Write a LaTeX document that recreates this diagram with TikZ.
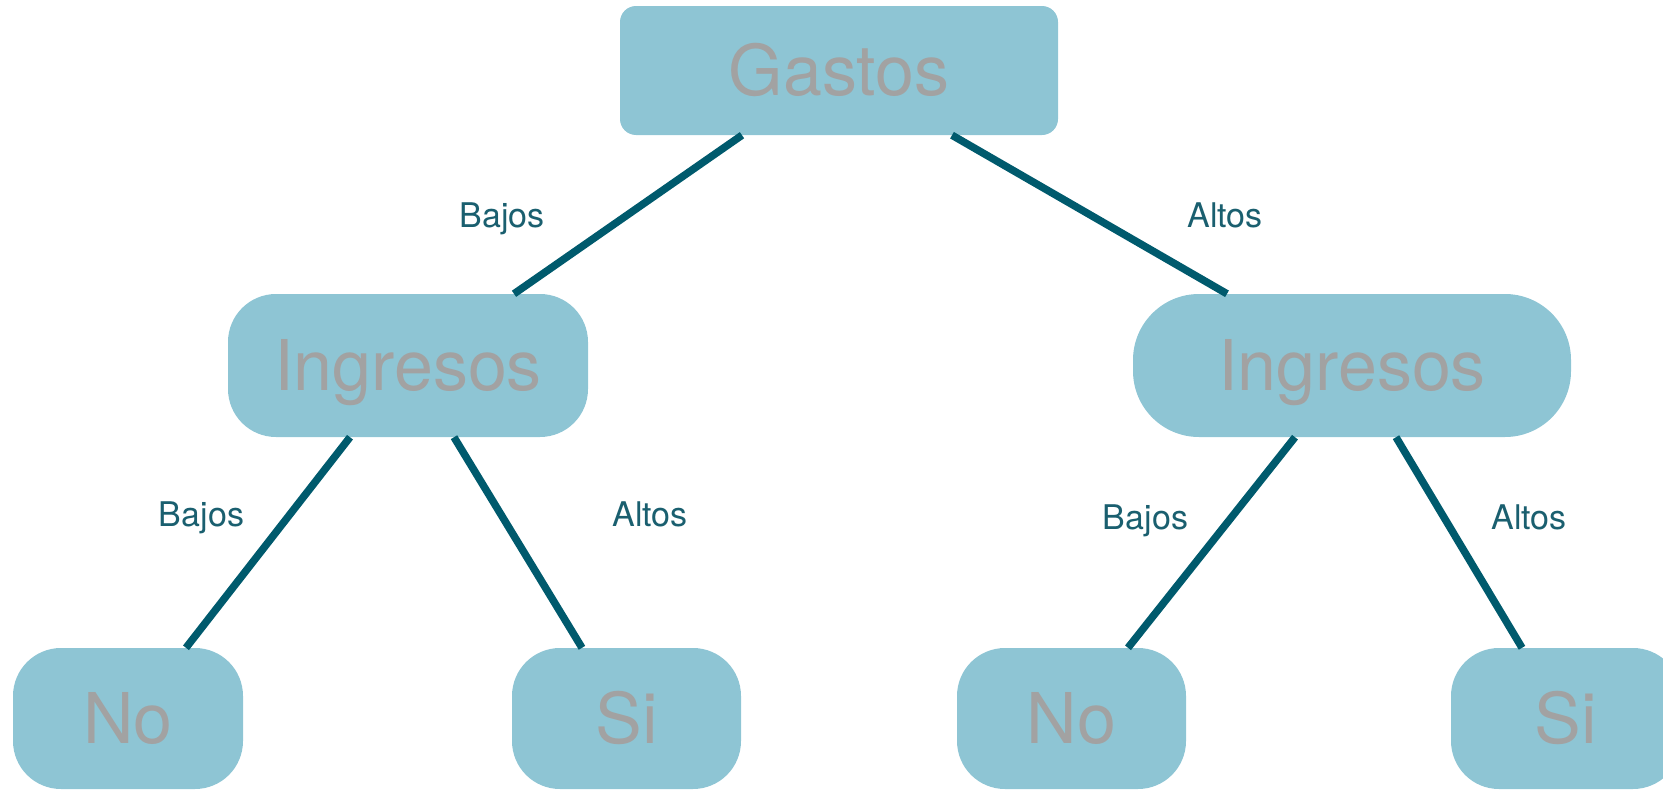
\documentclass[tikz,border=0pt]{standalone}
\usepackage{fontspec}
\setmainfont{TeX Gyre Heros}
\definecolor{boxfill}{HTML}{8EC5D4}
\definecolor{boxtext}{HTML}{A2A2A2}
\definecolor{edgecol}{HTML}{005A6D}
\definecolor{labcol}{HTML}{1A5F6F}
\begin{document}
\begin{tikzpicture}[x=1pt,y=-1pt,
  treebox/.style={fill=boxfill,draw=none,inner sep=0pt,
    font=\fontsize{70}{70}\selectfont,text=boxtext,
    text height=50pt,text depth=0pt},
  edge/.style={draw=edgecol,line width=7.5pt},
  branch/.style={font=\fontsize{34}{34}\selectfont,text=labcol,anchor=base,inner sep=0pt}]
\useasboundingbox (0,0) rectangle (1663,790);
% decision nodes
\node[treebox,minimum width=438pt,minimum height=129pt,rounded corners=16pt] (g) at (839,70.5) {Gastos};
\node[treebox,minimum width=360pt,minimum height=143pt,rounded corners=48pt] (il) at (408,365.5) {Ingresos};
\node[treebox,minimum width=438pt,minimum height=143pt,rounded corners=66pt] (ir) at (1352,365.5) {Ingresos};
% leaves
\node[treebox,minimum width=230pt,minimum height=141pt,rounded corners=48pt] (nl) at (128,718.5) {No};
\node[treebox,minimum width=229pt,minimum height=141pt,rounded corners=48pt] (sl) at (626.5,718.5) {Si};
\node[treebox,minimum width=229pt,minimum height=141pt,rounded corners=48pt] (nr) at (1071.5,718.5) {No};
\node[treebox,minimum width=230pt,minimum height=141pt,rounded corners=48pt] (sr) at (1566,718.5) {Si};
% branches
\draw[edge] ([xshift=-97pt]g.south) -- ([xshift=106pt]il.north);
\draw[edge] ([xshift=113pt]g.south) -- ([xshift=-125pt]ir.north);
\draw[edge] ([xshift=-58pt]il.south) -- ([xshift=58pt]nl.north);
\draw[edge] ([xshift=46pt]il.south) -- ([xshift=-44.5pt]sl.north);
\draw[edge] ([xshift=-57pt]ir.south) -- ([xshift=56.5pt]nr.north);
\draw[edge] ([xshift=44pt]ir.south) -- ([xshift=-44pt]sr.north);
% branch labels
\node[branch] (l1) at (502,227) {Bajos};
\node[branch] (l2) at (1225,227) {Altos};
\node[branch] (l3) at (201.5,526) {Bajos};
\node[branch] (l4) at (650,526) {Altos};
\node[branch] (l5) at (1145.5,529) {Bajos};
\node[branch] (l6) at (1529,529) {Altos};
\end{tikzpicture}
\end{document}
